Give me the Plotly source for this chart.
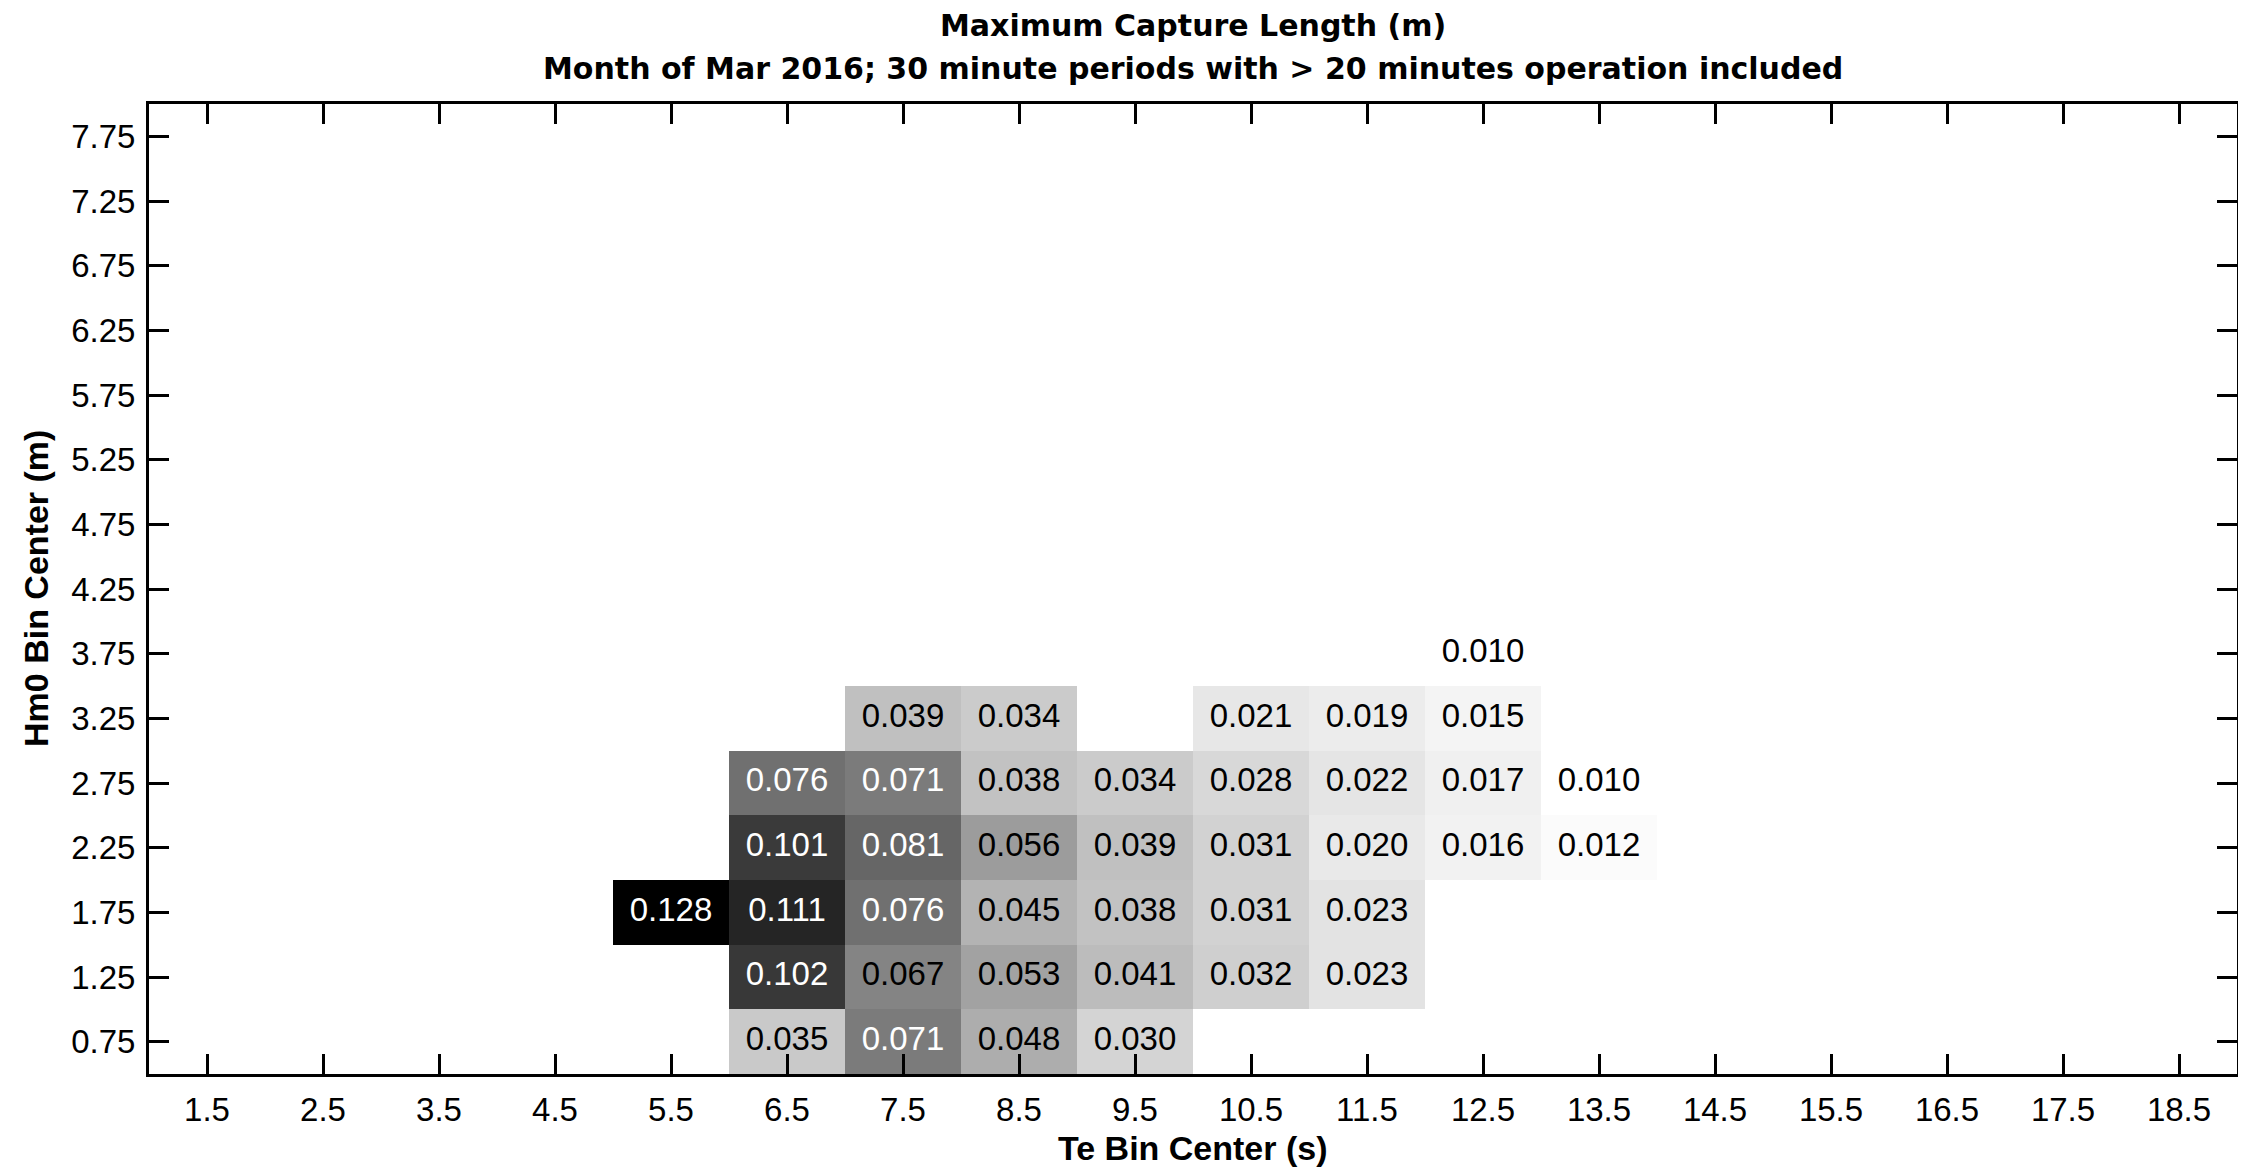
import plotly.graph_objects as go

# ---- data ----
te_centers = [1.5, 2.5, 3.5, 4.5, 5.5, 6.5, 7.5, 8.5, 9.5, 10.5, 11.5, 12.5, 13.5, 14.5, 15.5, 16.5, 17.5, 18.5]
hm0_centers = [0.75, 1.25, 1.75, 2.25, 2.75, 3.25, 3.75, 4.25, 4.75, 5.25, 5.75, 6.25, 6.75, 7.25, 7.75]

# values per Hm0 row, keyed by Te bin center
row_075 = {6.5: 0.035, 7.5: 0.071, 8.5: 0.048, 9.5: 0.030}
row_125 = {6.5: 0.102, 7.5: 0.067, 8.5: 0.053, 9.5: 0.041, 10.5: 0.032, 11.5: 0.023}
row_175 = {5.5: 0.128, 6.5: 0.111, 7.5: 0.076, 8.5: 0.045, 9.5: 0.038, 10.5: 0.031, 11.5: 0.023}
row_225 = {6.5: 0.101, 7.5: 0.081, 8.5: 0.056, 9.5: 0.039, 10.5: 0.031, 11.5: 0.020, 12.5: 0.016, 13.5: 0.012}
row_275 = {6.5: 0.076, 7.5: 0.071, 8.5: 0.038, 9.5: 0.034, 10.5: 0.028, 11.5: 0.022, 12.5: 0.017, 13.5: 0.010}
row_325 = {7.5: 0.039, 8.5: 0.034, 10.5: 0.021, 11.5: 0.019, 12.5: 0.015}
row_375 = {12.5: 0.010}

rows = {0.75: row_075, 1.25: row_125, 1.75: row_175, 2.25: row_225,
        2.75: row_275, 3.25: row_325, 3.75: row_375}

x_ticktext = [f"{v:.1f}" for v in te_centers]
y_ticktext = [f"{v:.2f}" for v in hm0_centers]

title_line1 = "Maximum Capture Length (m)"
title_line2 = "Month of Mar 2016; 30 minute periods with > 20 minutes operation included"
x_title = "Te Bin Center (s)"
y_title = "Hm0 Bin Center (m)"

# ---- build grid ----
z = []
for h in hm0_centers:
    r = rows.get(h, {})
    z.append([r.get(t) for t in te_centers])

zmin, zmax = 0.010, 0.128
white_thresh = 0.069

tx_w, ty_w, tt_w = [], [], []
tx_b, ty_b, tt_b = [], [], []
for h, r in rows.items():
    for t, v in r.items():
        if v > white_thresh:
            tx_w.append(t); ty_w.append(h); tt_w.append(f"{v:.3f}")
        else:
            tx_b.append(t); ty_b.append(h); tt_b.append(f"{v:.3f}")

FONT = "Liberation Sans, Arial, Helvetica, sans-serif"
TFONT = "DejaVu Sans, sans-serif"

fig = go.Figure()
fig.add_trace(go.Heatmap(
    x=te_centers, y=hm0_centers, z=z,
    colorscale=[[0, "rgb(255,255,255)"], [1, "rgb(0,0,0)"]],
    zmin=zmin, zmax=zmax, showscale=False, hoverongaps=False,
    xgap=0, ygap=0,
))
fig.add_trace(go.Scatter(x=tx_b, y=ty_b, text=tt_b, mode="text",
                         textfont=dict(family=FONT, size=33, color="black"),
                         showlegend=False, hoverinfo="skip"))
fig.add_trace(go.Scatter(x=tx_w, y=ty_w, text=tt_w, mode="text",
                         textfont=dict(family=FONT, size=33, color="white"),
                         showlegend=False, hoverinfo="skip"))

# page body has an 8px margin; compensate so the plot area lands where the reference has it
fig.update_layout(
    width=2238, height=1161,
    margin=dict(l=141, r=9, t=96, b=95, autoexpand=False),
    paper_bgcolor="white", plot_bgcolor="white",
    font=dict(family=FONT, size=32, color="black"),
    showlegend=False,
)

common = dict(
    tickmode="array", ticks="inside", ticklen=20, tickwidth=2.5, tickcolor="black",
    showline=True, linewidth=3, linecolor="black", mirror="ticks",
    showgrid=False, zeroline=False, automargin=False,
    tickfont=dict(family=FONT, size=33, color="black"),
    ticklabelstandoff=4,
)
fig.update_xaxes(range=[1, 19], tickvals=te_centers, ticktext=x_ticktext, **common)
fig.update_yaxes(range=[0.5, 8.0], tickvals=hm0_centers, ticktext=y_ticktext, **common)

fig.add_annotation(text=f"<b>{title_line1}</b>", xref="paper", yref="paper",
                   x=0.5, y=1, yshift=79, showarrow=False,
                   font=dict(family=TFONT, size=30), xanchor="center", yanchor="middle")
fig.add_annotation(text=f"<b>{title_line2}</b>", xref="paper", yref="paper",
                   x=0.5, y=1, yshift=36, showarrow=False,
                   font=dict(family=TFONT, size=30), xanchor="center", yanchor="middle")
fig.add_annotation(text=f"<b>{x_title}</b>", xref="paper", yref="paper",
                   x=0.5, y=0, yshift=-74, showarrow=False,
                   font=dict(family=FONT, size=34), xanchor="center", yanchor="middle")
fig.add_annotation(text=f"<b>{y_title}</b>", xref="paper", yref="paper",
                   x=0, y=0.5, xshift=-113, showarrow=False, textangle=-90,
                   font=dict(family=FONT, size=34), xanchor="center", yanchor="middle")

fig.write_html("out.html")
